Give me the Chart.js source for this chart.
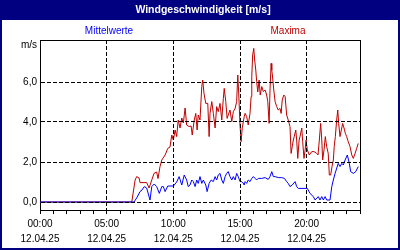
<!DOCTYPE html>
<html><head><meta charset="utf-8">
<script src="https://cdn.jsdelivr.net/npm/chart.js@4/dist/chart.umd.min.js"></script>
<style>html,body{margin:0;padding:0;background:#fff}#wrap{width:400px;height:250px;position:relative}</style>
</head><body><div id="wrap"><canvas id="c" width="400" height="250"></canvas></div>
<script>
const titleText = 'Windgeschwindigkeit [m/s]';
const seriesNames = ['Mittelwerte', 'Maxima'];
const unitLabel = 'm/s';
const dateLabel = '12.04.25';
const labeledHours = [0, 5, 10, 15, 20];
const yTicks = [0, 2, 4, 6];

// time in minutes since 00:00, values in m/s
const meanTimes = [0, 423, 435, 450, 459, 469, 480, 495, 503, 514,
  525, 537, 548, 555, 563, 575, 585, 600, 615, 626,
  638, 649, 660, 667, 675, 683, 690, 698, 705, 712,
  720, 728, 735, 746, 752, 761, 770, 780, 788, 795,
  802, 810, 818, 825, 833, 840, 847, 855, 863, 870,
  878, 885, 892, 900, 908, 914, 919, 923, 930, 937,
  945, 953, 960, 968, 975, 982, 998, 1013, 1027, 1035,
  1043, 1050, 1058, 1072, 1088, 1100, 1110, 1117, 1125, 1135,
  1148, 1155, 1162, 1203, 1215, 1230, 1238, 1252, 1260, 1268,
  1275, 1283, 1290, 1305, 1313, 1320, 1328, 1342, 1350, 1358,
  1365, 1373, 1383, 1392, 1398, 1410, 1421, 1432];
const meanValues = [0, 0, 0.2, 0.52, 0.6, 0.77, 0.7, 0.1, 0.77, 0.9,
  0.77, 0.43, 0.77, 0.77, 0.52, 0.8, 0.8, 0.8, 1.0, 1.27,
  0.85, 1.35, 1.1, 0.77, 0.85, 1.1, 1.02, 0.77, 1.1, 0.93,
  1.27, 0.93, 1.1, 0.85, 0.52, 0.93, 1.1, 1.02, 1.27, 1.1,
  1.35, 1.43, 1.1, 0.93, 1.27, 1.43, 1.52, 1.27, 1.1, 1.27,
  1.1, 1.43, 1.27, 1.02, 1.02, 0.95, 0.85, 1.02, 0.93, 1.1,
  1.02, 1.18, 1.27, 1.18, 1.1, 1.18, 1.18, 1.22, 1.13, 1.27,
  1.52, 1.27, 1.27, 1.22, 1.22, 1.18, 1.02, 0.93, 0.77, 0.85,
  1.02, 0.77, 0.68, 0.68, 0.43, 0.27, 0.1, 0.27, 0.1, 0.27,
  0.1, 0.27, 0.1, 0.1, 0.77, 1.1, 1.43, 1.93, 1.77, 1.93,
  1.85, 2.1, 2.35, 1.93, 1.52, 1.43, 1.52, 1.77];

const maxTimes = [0, 413, 428, 435, 446, 450, 480, 491, 503, 513,
  525, 531, 540, 548, 563, 575, 585, 593, 600, 608,
  615, 622, 630, 638, 645, 653, 660, 671, 680, 685,
  694, 701, 707, 712, 720, 728, 732, 738, 746, 755,
  761, 765, 773, 780, 788, 795, 802, 810, 818, 825,
  829, 836, 842, 847, 855, 863, 870, 878, 885, 890,
  894, 900, 905, 910, 919, 923, 930, 937, 945, 950,
  953, 957, 962, 966, 971, 975, 980, 986, 991, 998,
  1005, 1013, 1020, 1025, 1031, 1035, 1040, 1043, 1047, 1052,
  1058, 1065, 1072, 1080, 1085, 1090, 1097, 1103, 1110, 1117,
  1125, 1130, 1135, 1140, 1144, 1151, 1155, 1160, 1166, 1170,
  1178, 1182, 1188, 1193, 1197, 1203, 1212, 1223, 1233, 1245,
  1251, 1257, 1263, 1268, 1272, 1278, 1284, 1290, 1297, 1302,
  1308, 1314, 1320, 1324, 1329, 1335, 1340, 1344, 1350, 1356,
  1362, 1368, 1374, 1380, 1387, 1395, 1403, 1410, 1418, 1425,
  1432];
const maxValues = [0, 0, 1.1, 1.27, 1.2, 0.97, 0.97, 0.7, 1.1, 1.43,
  1.5, 1.17, 1.77, 2.1, 2.35, 2.68, 2.75, 3.35, 3.1, 3.6,
  3.27, 4.1, 3.7, 4.2, 3.95, 4.7, 3.85, 3.77, 3.8, 3.35,
  4.1, 4.43, 3.6, 4.35, 4.1, 5.77, 6.1, 5.43, 4.93, 4.93,
  3.27, 4.43, 5.02, 4.43, 3.7, 4.77, 4.52, 4.93, 4.1, 5.18,
  5.68, 5.02, 4.18, 4.35, 4.6, 4.02, 4.52, 4.68, 5.02, 6.35,
  5.5, 3.85, 3.02, 3.7, 4.27, 4.43, 4.27, 3.85, 4.43, 5.27,
  6.27, 7.35, 7.68, 7.1, 6.6, 6.02, 5.5, 6.1, 5.35, 5.77,
  5.52, 5.6, 5.35, 5.02, 3.93, 5.6, 6.93, 6.6, 6.2, 5.6,
  5.02, 4.77, 4.6, 4.68, 4.43, 5.1, 5.35, 5.27, 4.35, 4.1,
  3.77, 2.43, 2.77, 3.1, 3.27, 3.6, 3.1, 2.18, 3.1, 3.27,
  3.7, 3.02, 2.18, 2.6, 3.1, 2.6, 2.35, 2.52, 2.52, 2.43,
  2.35, 3.1, 3.93, 3.1, 2.1, 2.6, 3.27, 2.77, 2.43, 1.35,
  1.35, 1.77, 2.1, 2.77, 3.27, 4.1, 4.6, 3.93, 3.27, 3.6,
  3.93, 3.7, 3.43, 3.27, 3.02, 2.77, 2.35, 2.18, 2.43, 2.68,
  2.93];

const FONT = '"Liberation Sans", Arial, sans-serif';
const pad2 = n => String(n).padStart(2, '0');
const zip = (t, v) => t.map((x, i) => ({x, y: v[i]}));

const framePlugin = {
  id: 'frame',
  beforeDraw(chart) {
    const c = chart.ctx;
    c.save();
    c.fillStyle = '#fff';
    c.fillRect(0, 0, 400, 250);
    c.fillStyle = '#000080';
    c.fillRect(0, 0, 400, 20);
    c.strokeStyle = '#000080';
    c.lineWidth = 2;
    c.strokeRect(1, 1, 398, 248);
    c.restore();
  },
  afterDatasetsDraw(chart) {
    // grid lines lie on top of the data lines in the original
    const a = chart.chartArea;
    chart.scales.x.drawGrid(a);
    chart.scales.y.drawGrid(a);
  },
  afterDraw(chart) {
    const c = chart.ctx, a = chart.chartArea;
    c.save();
    c.strokeStyle = '#000';
    c.lineWidth = 1;
    c.beginPath();
    c.moveTo(a.left, a.top + 0.5);
    c.lineTo(a.right + 1, a.top + 0.5);
    c.moveTo(a.right + 0.5, a.top);
    c.lineTo(a.right + 0.5, a.bottom + 1);
    c.stroke();
    c.textBaseline = 'alphabetic';
    c.fillStyle = '#fff';
    c.textAlign = 'center';
    c.font = 'bold 10.5px ' + FONT;
    c.fillText(titleText, 203, 13);
    c.font = '10px ' + FONT;
    c.fillStyle = '#0000ff';
    c.fillText(seriesNames[0], 109, 34);
    c.fillStyle = '#c00000';
    c.fillText(seriesNames[1], 288, 34);
    c.fillStyle = '#000';
    c.textAlign = 'right';
    c.fillText(unitLabel, 37, 48);
    c.restore();
  }
};

new Chart(document.getElementById('c'), {
  type: 'line',
  data: {
    datasets: [
      {label: seriesNames[0], data: zip(meanTimes, meanValues), borderColor: '#0000ff', borderWidth: 1, pointRadius: 0, tension: 0, fill: false},
      {label: seriesNames[1], data: zip(maxTimes, maxValues), borderColor: '#c00000', borderWidth: 1, pointRadius: 0, tension: 0, fill: false}
    ]
  },
  options: {
    responsive: false,
    animation: false,
    devicePixelRatio: 1,
    layout: {padding: {top: 40, right: 40, left: 0, bottom: 0}},
    plugins: {legend: {display: false}, title: {display: false}, tooltip: {enabled: false}},
    scales: {
      x: {
        type: 'linear', min: 0, max: 1440,
        afterBuildTicks: s => { const t = []; for (let h = 0; h <= 24; h++) t.push({value: h * 60}); s.ticks = t; },
        afterFit: s => { s.height = 40; },
        ticks: {
          autoSkip: false, maxRotation: 0, minRotation: 0, padding: 3,
          color: '#000', font: {family: FONT, size: 10, lineHeight: 1.5},
          callback: v => labeledHours.includes(v / 60) ? [pad2(v / 60) + ':00', dateLabel] : ''
        },
        grid: {
          color: ctx => (ctx.tick && labeledHours.includes(ctx.tick.value / 60) && ctx.tick.value > 0) ? '#000' : 'rgba(0,0,0,0)',
          tickColor: '#000', tickLength: 4, lineWidth: 1, drawTicks: true
        },
        border: {display: true, color: '#000', width: 1, dash: [4, 2]}
      },
      y: {
        min: -0.4, max: 8.1,
        afterBuildTicks: s => { s.ticks = yTicks.map(v => ({value: v})); },
        afterFit: s => { s.width = 40; },
        ticks: {
          padding: 3, color: '#000', font: {family: FONT, size: 10},
          callback: v => v.toFixed(1).replace('.', ',')
        },
        grid: {color: '#000', lineWidth: 1, drawTicks: false},
        border: {display: true, color: '#000', width: 1, dash: [4, 2]}
      }
    }
  },
  plugins: [framePlugin]
});
</script>
</body></html>
